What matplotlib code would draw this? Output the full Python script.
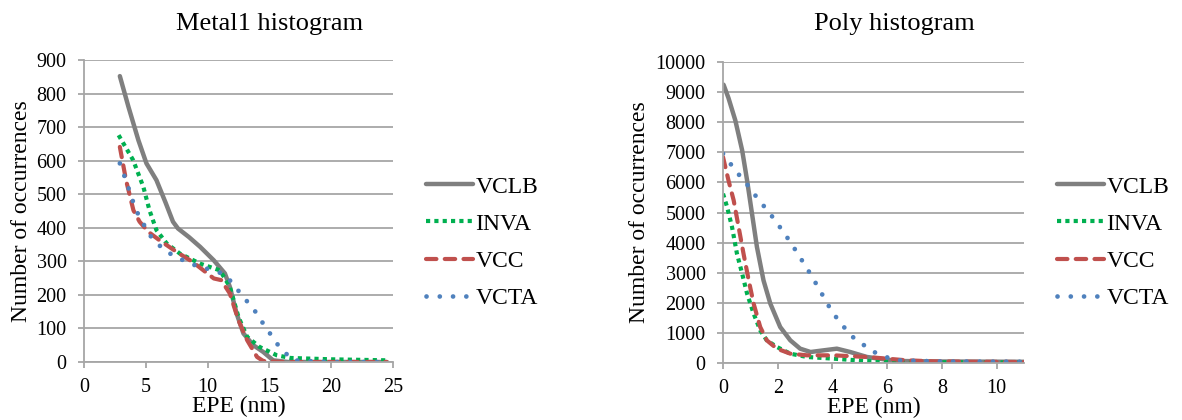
import matplotlib
matplotlib.use("Agg")
import matplotlib.pyplot as plt

plt.rcParams['font.family'] = ['Liberation Serif', 'DejaVu Serif']

series_names = ["VCLB", "INVA", "VCC", "VCTA"]

# Metal1 histogram
m1_vclb_x = [2.9, 3.6, 4.4, 5.05, 5.86, 6.6, 7.2, 7.6, 8.5, 9.4, 10.5, 11.4, 11.8, 12.35, 12.9, 13.7, 14.5, 15.3, 16.5, 20, 24.5]
m1_vclb_y = [852, 760, 661, 592, 542, 475, 418, 398, 372, 343, 303, 264, 224, 144, 85, 50, 30, 5, 0, 0, 0]
m1_inva_x = [2.8, 3.97, 4.8, 5.3, 5.86, 6.7, 7.76, 9.4, 11.0, 11.8, 12.5, 13.2, 14.2, 15.6, 16.7, 20, 24.5]
m1_inva_y = [676, 602, 522, 452, 393, 353, 323, 293, 273, 224, 134, 75, 45, 20, 12, 8, 5]
m1_vcc_x = [2.9, 3.4, 4.0, 4.5, 5.2, 6.1, 7.5, 8.8, 10.5, 11.1, 11.8, 12.5, 13.2, 14.0, 14.5, 16, 20, 24.5]
m1_vcc_y = [641, 542, 452, 418, 388, 363, 328, 298, 249, 244, 204, 124, 65, 15, 3, 0, 0, 0]
m1_vcta_x = [2.9, 3.24, 3.57, 3.9, 4.24, 4.73, 5.2, 5.86, 6.6, 7.5, 8.4, 9.4, 10.3, 11.3, 12.0, 12.6, 13.3, 14.0, 14.5, 15.05, 15.6, 16.35, 16.9, 20, 24.5]
m1_vcta_y = [592, 557, 522, 485, 450, 418, 383, 356, 330, 313, 296, 283, 275, 262, 236, 207, 176, 144, 114, 85, 55, 25, 5, 0, 0]

# Poly histogram
po_vclb_x = [0.02, 0.2, 0.45, 0.7, 0.88, 1.06, 1.24, 1.48, 1.73, 2.09, 2.46, 2.82, 3.2, 3.67, 4.16, 4.65, 5.26, 5.99, 6.5, 8, 11]
po_vclb_y = [9247, 8804, 8062, 7065, 6069, 4961, 3854, 2746, 1971, 1196, 753, 476, 365, 420, 476, 365, 200, 110, 66, 50, 40]
po_inva_x = [0.0, 0.15, 0.33, 0.51, 0.7, 0.88, 1.12, 1.36, 1.6, 1.97, 2.46, 3.07, 4.04, 5.26, 6.1, 8, 11]
po_inva_y = [5626, 5183, 4518, 3632, 2968, 2303, 1639, 1085, 753, 532, 310, 200, 144, 66, 33, 25, 20]
po_vcc_x = [0.0, 0.2, 0.39, 0.57, 0.75, 0.94, 1.12, 1.36, 1.6, 1.97, 2.46, 3.07, 4.04, 5.26, 6.0, 6.7, 7.7, 8.9, 11]
po_vcc_y = [6844, 6069, 5404, 4518, 3632, 2746, 1971, 1196, 753, 476, 310, 255, 255, 200, 144, 89, 55, 44, 33]
po_vcta_x = [0.0, 0.27, 0.55, 0.86, 1.13, 1.42, 1.72, 1.99, 2.25, 2.5, 2.77, 3.0, 3.24, 3.47, 3.7, 3.92, 4.19, 4.47, 4.77, 5.16, 5.52, 5.95, 6.35, 8, 11]
po_vcta_y = [6955, 6622, 6290, 5958, 5626, 5294, 4961, 4629, 4297, 3965, 3576, 3244, 2890, 2525, 2159, 1805, 1450, 1140, 842, 587, 365, 200, 89, 50, 40]

colors = ["#7f7f7f", "#00b050", "#c0504d", "#4f81bd"]
styles = [
    dict(linestyle="-", linewidth=3.2, solid_capstyle="round", solid_joinstyle="round"),
    dict(linestyle=(0, (1, 1)), linewidth=3.0, dash_capstyle="butt"),
    dict(linestyle=(0, (2.5, 2.0)), linewidth=3.0, dash_capstyle="round"),
    dict(linestyle=(0, (0.01, 2.8)), linewidth=3.4, dash_capstyle="round"),
]

W, H = 1182, 420
fig = plt.figure(figsize=(W / 100, H / 100), dpi=100)


def px_axes(x0, x1, ytop, ybot):
    return fig.add_axes([x0 / W, (H - ybot) / H, (x1 - x0) / W, (ybot - ytop) / H])


def style_axes(ax):
    ax.grid(axis="y", color="#a6a6a6", linewidth=1.3)
    ax.set_axisbelow(True)
    for s in ["top", "right"]:
        ax.spines[s].set_visible(False)
    for s in ["left", "bottom"]:
        ax.spines[s].set_color("#a6a6a6")
        ax.spines[s].set_linewidth(1.3)
    ax.tick_params(axis="both", colors="#a6a6a6", labelcolor="black", labelsize=14.5,
                   length=4.5, width=1.3)
    ax.tick_params(axis="y", pad=8)
    ax.tick_params(axis="x", pad=7)


def draw(ax, data, title, title_x, xlim, xticks, ylim, yticks, ylab_x, legend_x):
    lines = []
    for (x, y), c, st, name in zip(data, colors, styles, series_names):
        ln, = ax.plot(x, y, color=c, label=name, **st)
        lines.append(ln)
    ax.set_xlim(*xlim)
    ax.set_ylim(*ylim)
    ax.set_xticks(xticks)
    ax.set_yticks(yticks)
    style_axes(ax)
    fig.text(title_x / W, (H - 30) / H, title, fontsize=19, ha="center", va="baseline")
    ax.set_xlabel("EPE (nm)", fontsize=17)
    ax.xaxis.set_label_coords(0.5, -0.112)
    ax.set_ylabel("Number of occurrences", fontsize=17)
    ax.yaxis.set_label_coords(ylab_x, 0.5)
    fig.legend(handles=lines, loc="center left", bbox_to_anchor=(legend_x / W, (H - 242.5) / H),
               frameon=False, fontsize=17, handlelength=2.0, handletextpad=0.1,
               labelspacing=0.66, borderpad=0, borderaxespad=0)


ax1 = px_axes(84, 393, 60, 362)
draw(ax1,
     [(m1_vclb_x, m1_vclb_y), (m1_inva_x, m1_inva_y), (m1_vcc_x, m1_vcc_y), (m1_vcta_x, m1_vcta_y)],
     "Metal1 histogram", 270, (0, 25), [0, 5, 10, 15, 20, 25], (0, 900), list(range(0, 901, 100)),
     (32 - 84) / 309, 426)

ax2 = px_axes(723, 1024, 62, 363)
draw(ax2,
     [(po_vclb_x, po_vclb_y), (po_inva_x, po_inva_y), (po_vcc_x, po_vcc_y), (po_vcta_x, po_vcta_y)],
     "Poly histogram", 894, (0, 11), [0, 2, 4, 6, 8, 10], (0, 10000), list(range(0, 10001, 1000)),
     (650 - 723) / 301, 1057)

fig.savefig("out.png", dpi=100)
